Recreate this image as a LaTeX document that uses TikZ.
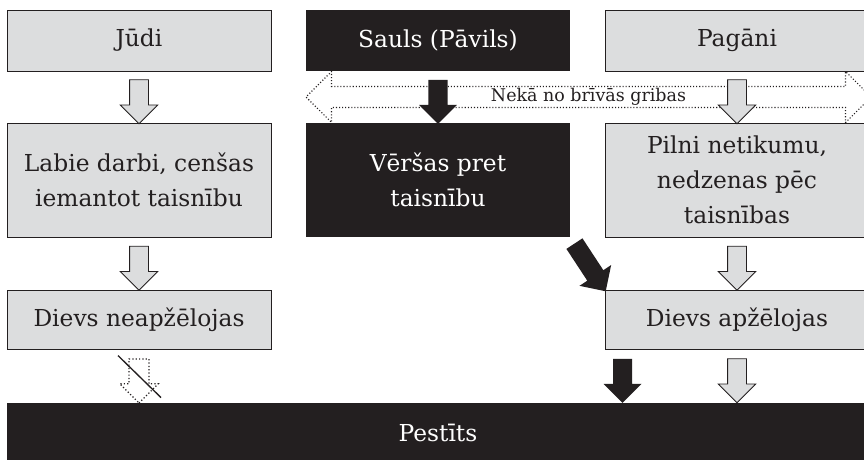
\documentclass[tikz,border=0pt]{standalone}
\usepackage{fontspec}
\setmainfont{DejaVu Serif}
\usepackage{xcolor}
\usetikzlibrary{shapes.arrows, arrows}
\definecolor{boxgray}{HTML}{DCDDDE}
\definecolor{ink}{HTML}{231F20}
\tikzstyle{graybox} = [rectangle, 
minimum width=198pt, 
minimum height=45.75pt,
align=center, 
draw=ink, line width=0.6pt, 
fill=boxgray, text=ink,
font=\fontsize{17.5}{26.25}\selectfont]
\tikzstyle{blackbox} = [rectangle, 
minimum width=198pt, 
minimum height=45.75pt,
align=center, 
fill=ink, text=white,
font=\fontsize{17.5}{26.25}\selectfont]
\tikzstyle{tallbox} = [minimum height=85.5pt]
\tikzstyle{lowbox} = [minimum height=44.25pt]
\tikzstyle{grayarrow} = [single arrow, sloped, allow upside down, 
minimum height=33pt, 
single arrow head extend=7pt, 
inner xsep=0pt, inner ysep=6.75pt, 
draw=ink, line width=0.6pt, fill=boxgray]
\tikzstyle{blackarrow} = [single arrow, sloped, allow upside down, 
minimum height=33pt, 
single arrow head extend=7pt, 
inner xsep=0pt, inner ysep=7pt, 
fill=ink]
\tikzstyle{dotarrow} = [single arrow, sloped, allow upside down, 
minimum height=33pt, 
single arrow head extend=7pt, 
inner xsep=0pt, inner ysep=7pt, 
draw=ink, line width=0.9pt, dash pattern=on 0.9pt off 1.6pt]
\tikzstyle{band} = [double arrow, 
minimum height=423.75pt, 
minimum width=38.25pt, 
double arrow head extend=9.75pt, 
inner sep=0pt, 
draw=ink, line width=0.8pt, dash pattern=on 0.8pt off 1.5pt,
text=ink, font=\fontsize{13.1}{14}\selectfont]

\begin{document}
\begin{tikzpicture}[x=0.75pt, y=-0.75pt, node distance=104.625pt]
    \useasboundingbox (0,0) rectangle (864,460);

    \node (judi) [graybox] at (139,40.5) {Jūdi};
    \node (sauls) [blackbox, node distance=224.25pt, right of=judi] {Sauls (Pāvils)};
    \node (pagani) [graybox, node distance=224.25pt, right of=sauls] {Pagāni};

    \node (labie) [graybox, tallbox, below of=judi] {Labie darbi, cenšas\\iemantot taisnību};
    \node (versas) [blackbox, tallbox, below of=sauls] {Vēršas pret\\taisnību};
    \node (pilni) [graybox, tallbox, below of=pagani] {Pilni netikumu,\\nedzenas pēc\\taisnības};

    \node (neap) [graybox, lowbox, below of=labie] {Dievs neapžēlojas};
    \node (apz) [graybox, lowbox, below of=pilni] {Dievs apžēlojas};

    \node (pestits) [blackbox, minimum width=646.5pt, minimum height=45pt, node distance=85.125pt, below of=neap, xshift=224.25pt] {Pestīts};

    \node (band) [band] at (588.5,97) {Nekā no brīvās gribas};

    \path (judi.south) -- node [grayarrow] {} (labie.north);
    \path (sauls.south) -- node [blackarrow] {} (versas.north);
    \path (pagani.south) -- node [grayarrow] {} (pilni.north);

    \path (labie.south) -- node [grayarrow] {} (neap.north);
    \path (versas.south east) -- node [blackarrow, minimum height=42.75pt] {} (apz.north west);
    \path (pilni.south) -- node [grayarrow] {} (apz.north);

    \path (neap.south) -- node (nope) [dotarrow] {} (neap.south |- pestits.north);
    \draw [ink, line width=1pt] ([shift={(-21,-20.5)}]nope.center) -- ([shift={(22,21.5)}]nope.center);
    \coordinate (drop) at ([xshift=13.5pt]apz.south west);
    \path (drop) -- node [blackarrow] {} (drop |- pestits.north);
    \path (apz.south) -- node [grayarrow] {} (apz.south |- pestits.north);

\end{tikzpicture}
\end{document}
